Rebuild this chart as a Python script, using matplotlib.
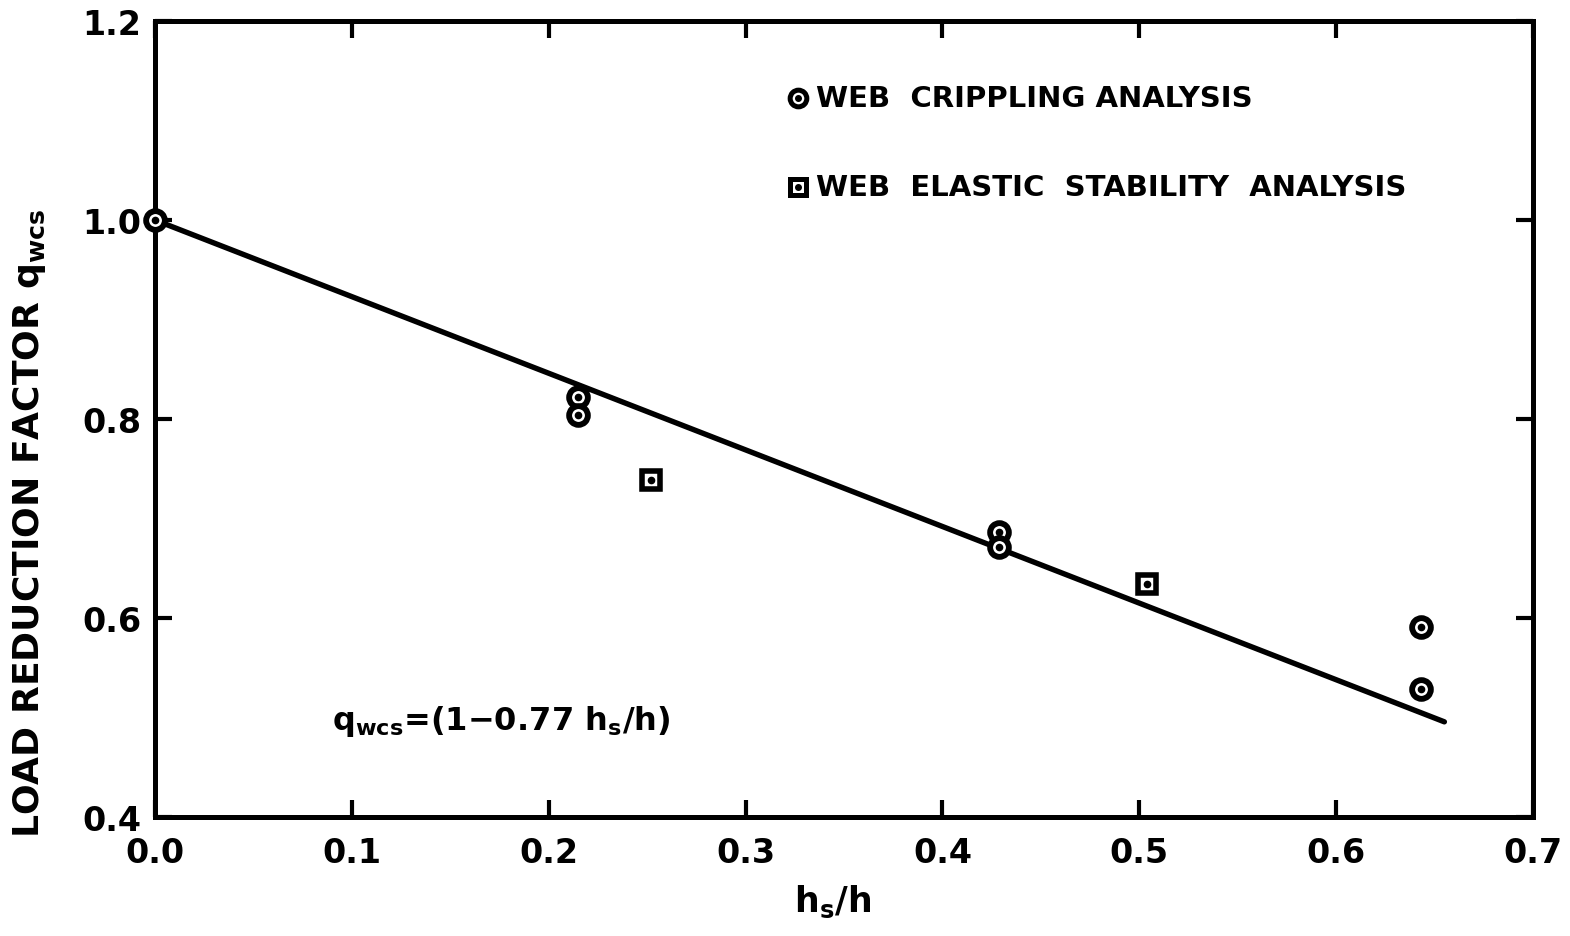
import matplotlib
matplotlib.use("Agg")
import matplotlib.pyplot as plt
import numpy as np

# Data
crippling_x = [0.0, 0.215, 0.215, 0.429, 0.429, 0.643, 0.643]
crippling_y = [1.0, 0.822, 0.804, 0.686, 0.671, 0.591, 0.529]
elastic_x = [0.252, 0.504]
elastic_y = [0.739, 0.634]
fit_intercept = 1.0
fit_slope = -0.77
fit_x = [0.0, 0.655]
xticks = [0.0, 0.1, 0.2, 0.3, 0.4, 0.5, 0.6, 0.7]
xtick_labels = ["0.0", "0.1", "0.2", "0.3", "0.4", "0.5", "0.6", "0.7"]
yticks = [0.4, 0.6, 0.8, 1.0, 1.2]
ytick_labels = ["0.4", "0.6", "0.8", "1.0", "1.2"]

plt.rcParams['font.family'] = ['DejaVu Sans']
plt.rcParams['font.weight'] = 'bold'

fig = plt.figure(figsize=(15.7, 9.37), dpi=100)
ax = fig.add_axes([0.0987, 0.127, 0.8777, 0.8495])

fx = np.array(fit_x)
ax.plot(fx, fit_intercept + fit_slope * fx, color='black', lw=3.9,
        solid_capstyle='round', zorder=2, clip_on=False)

ax.plot(crippling_x, crippling_y, linestyle='none', marker='o', ms=13.5,
        mfc='white', mec='black', mew=4.2, zorder=3, clip_on=False)
ax.plot(crippling_x, crippling_y, linestyle='none', marker='o', ms=4.5,
        mfc='black', mec='black', zorder=4, clip_on=False)
ax.plot(elastic_x, elastic_y, linestyle='none', marker='s', ms=13,
        mfc='white', mec='black', mew=4.0, zorder=3, clip_on=False)
ax.plot(elastic_x, elastic_y, linestyle='none', marker='o', ms=4.5,
        mfc='black', mec='black', zorder=4, clip_on=False)

ax.set_xlim(0.0, 0.7)
ax.set_ylim(0.4, 1.2)
ax.set_xticks(xticks)
ax.set_xticklabels(xtick_labels)
ax.set_yticks(yticks)
ax.set_yticklabels(ytick_labels)

for s in ax.spines.values():
    s.set_linewidth(3.6)
ax.tick_params(direction='in', length=12, width=3, top=True, right=True,
               labelsize=24, pad=10)
ax.tick_params(axis='x', pad=14)
for lbl in ax.get_xticklabels() + ax.get_yticklabels():
    lbl.set_fontweight('bold')

ax.set_xlabel(r"$\mathbf{h_s}$/h", fontsize=25, fontweight='bold')
ax.xaxis.set_label_coords(0.492, -0.083)
ax.xaxis.label.set_va('top')
ax.set_ylabel(r"LOAD REDUCTION FACTOR $\mathbf{q_{wcs}}$", fontsize=26,
              fontweight='bold')
ax.yaxis.set_label_coords(-0.0907, 0.37)
ax.yaxis.label.set_va('center')

# Legend (drawn as text with markers)
leg_x = 0.3265
ax.plot([leg_x], [1.1225], linestyle='none', marker='o', ms=12, mfc='white',
        mec='black', mew=3.6, zorder=5)
ax.plot([leg_x], [1.1225], linestyle='none', marker='o', ms=4, mfc='black',
        mec='black', zorder=6)
ax.text(leg_x + 0.0095, 1.1225, "WEB  CRIPPLING ANALYSIS", fontsize=21,
        fontweight='bold', va='center', ha='left')
ax.plot([leg_x], [1.0335], linestyle='none', marker='s', ms=12, mfc='white',
        mec='black', mew=3.6, zorder=5)
ax.plot([leg_x], [1.0335], linestyle='none', marker='o', ms=4, mfc='black',
        mec='black', zorder=6)
ax.text(leg_x + 0.0095, 1.0335, "WEB  ELASTIC  STABILITY  ANALYSIS", fontsize=21,
        fontweight='bold', va='center', ha='left')

ax.text(0.090, 0.497, r"$\mathbf{q_{wcs}}$=(1$-$0.77 h$\mathbf{_s}$/h)", fontsize=23,
        fontweight='bold', va='center', ha='left')

fig.savefig("out.png", dpi=100)
